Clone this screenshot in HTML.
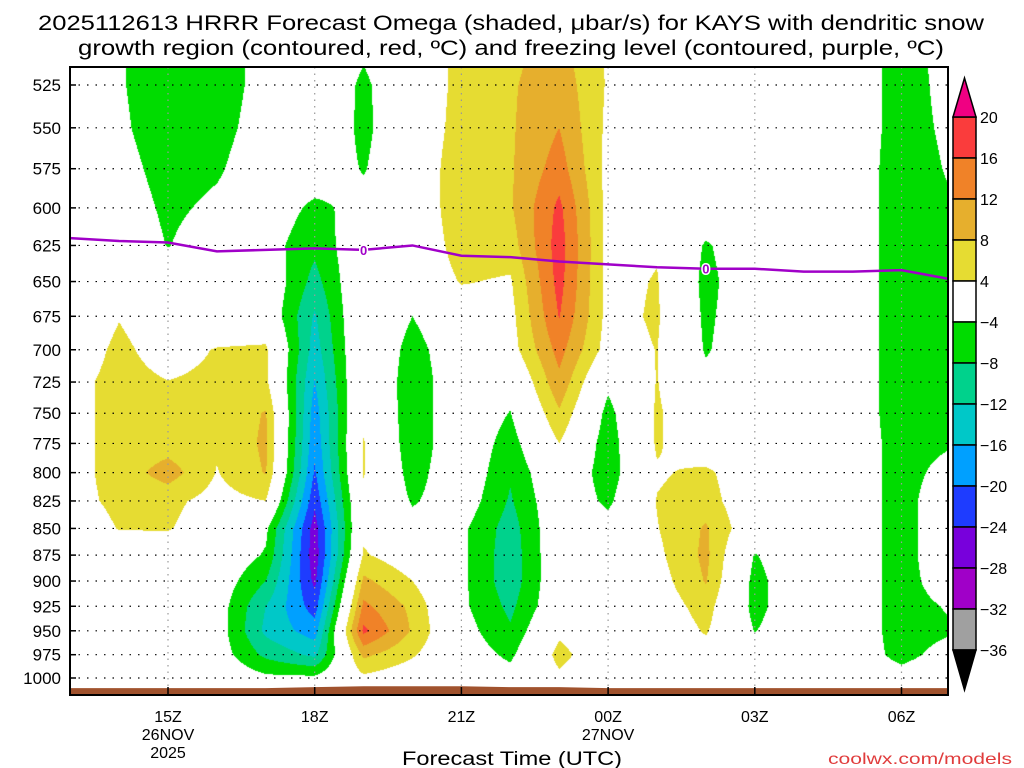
<!DOCTYPE html>
<html><head><meta charset="utf-8">
<style>
html,body{margin:0;padding:0;background:#fff;}
#wrap{position:relative;width:1024px;height:768px;overflow:hidden;font-family:"Liberation Sans",sans-serif;}
#cv{position:absolute;left:70px;top:67px;}
#sv{position:absolute;left:0;top:0;}
</style></head>
<body>
<div id="wrap">
<canvas id="cv" width="878" height="628"></canvas>
<svg id="sv" width="1024" height="768" xmlns="http://www.w3.org/2000/svg">
<text x="511" y="30" font-size="21" text-anchor="middle" textLength="946" lengthAdjust="spacingAndGlyphs">2025112613 HRRR Forecast Omega (shaded, μbar/s) for KAYS with dendritic snow</text>
<text x="511" y="55" font-size="21" text-anchor="middle" textLength="866" lengthAdjust="spacingAndGlyphs">growth region (contoured, red, ºC) and freezing level (contoured, purple, ºC)</text>
<g id="grid"></g>
<g id="terrain"></g>
<g id="frz"></g>
<g id="yax"></g>
<g id="xax"></g>
<rect x="70" y="67" width="878" height="628" fill="none" stroke="#000" stroke-width="2"/>
<g id="cbar"></g>
<text x="512" y="765" font-size="19" text-anchor="middle" textLength="220" lengthAdjust="spacingAndGlyphs">Forecast Time (UTC)</text>
<text x="1012" y="764" font-size="16" fill="#e03c3c" text-anchor="end" textLength="184" lengthAdjust="spacingAndGlyphs">coolwx.com/models</text>
</svg>
</div>
<script>
// ---- data ----
const hours = ["13Z","14Z","15Z","16Z","17Z","18Z","19Z","20Z","21Z","22Z","23Z","00Z","01Z","02Z","03Z","04Z","05Z","06Z","07Z"];
const levels = [500,525,550,575,600,625,650,675,700,725,750,775,800,825,850,875,900,925,950,975,1000];
const omega = [
[0,-3.5,-7,-6,-2.5,0,-3,0,5.5,7,9,3.5,0,0,0,0,-1,-6,-2],
[0,-3.5,-7,-6,-2.5,0,-4.8,0,5.5,7.5,10.5,3.5,0,0,0,0,-1,-6,-2.5],
[0,-3,-7,-5.5,-2,0,-5,0,6,7.5,12,3,0,0,0,0,-1,-6,-3],
[0,-2,-6,-4.6,-1,-1,-4.3,0,7,7.5,14,2.5,0,0,0,0,-1,-6.5,-3.5],
[0,-1,-5,-3,-1,-5,-2.5,0,7,7.5,17,2.5,0,0,0,0,-1,-6.5,-4.5],
[0,0,-4.2,-1,-2,-7,0,0,6,6,18,2.5,3.5,-4.6,0,0,-1,-6.5,-5.5],
[0,0,-1,0,0,-9.5,1,0,4.3,3.5,17.5,2.5,4.3,-5.5,0,0,-1,-6.5,-6],
[0,3.8,1,0,0,-12.5,2,-4,1,2.5,16.2,2.5,4.6,-5,0,0,-1,-6.5,-6.5],
[1,5,2,4.3,4.8,-14,2,-6,0,2,13.5,2,4.1,-4.5,0,0,-1,-6.5,-6.5],
[2.5,5.5,4.1,5,5,-16.2,2.5,-7,0,-2,11,-3,4.2,-2.5,0,0,-1,-6.5,-6],
[2.5,5.5,5,5,8.3,-18,3,-7,0,-4.2,7.5,-5.5,4.6,0,0,0,-1,-6.5,-5],
[2.5,5.5,6,4.5,8.8,-19,4.3,-7,0,-6,4,-6.5,4.6,0,0,0,-1,-6,-4.5],
[2.5,5.5,10,3.8,8.3,-20.5,4.3,-6,0,-7.5,1,-6.5,3.5,5,0,0,-1,-6,-2],
[2.5,5,5,2.5,4,-23,3,-4.5,-1,-8.5,0,-5,4.2,6,0,0,-1,-6,0],
[1,4.2,4.3,1.5,-3,-26,3,-2,-3,-10,0,-2,3.8,8.5,0,0,-1,-6,0],
[0,1,1,0,-4.5,-26.5,4.5,1,-3,-10.5,0,0,3,9,-4.3,0,-1,-6,0],
[0,0,0,-1,-8,-25,9,4,-3,-10.5,0,0,2,8.3,-5.5,0,-1,-6,-1],
[0,0,0,-1.5,-12,-22,13,7,-3,-9,0,0,1,6,-5.5,0,-1,-6,-3.5],
[0,0,0,-1.5,-13,-18,17,7.5,-2,-7.5,3,0,0,4.5,-4.2,0,-1,-6,-4.5],
[0,0,0,-1.5,-9,-13,9,4.5,-1,-5,5.5,0,0,2,0,0,-1,-5.5,-2],
[0,0,0,0,-3,-3,3,1,0,-2,3,0,0,0,0,0,-1,-2,0]
];
const freezingP = [620,622,623,629,628,627,628,625,632,633,636,638,640,641,641,643,643,642,648];
const surfaceP = [1011,1011,1011,1011,1011,1010,1009,1009,1009,1010,1010,1011,1011,1011,1011,1011,1011,1011,1011];
const yTickLabels = [525,550,575,600,625,650,675,700,725,750,775,800,825,850,875,900,925,950,975,1000];
const xTickHours = [2,5,8,11,14,17];
const xTickLabels = ["15Z","18Z","21Z","00Z","03Z","06Z"];
const cbLevels = [-36,-32,-28,-24,-20,-16,-12,-8,-4,4,8,12,16,20];
const cbColors = ["#000000","#a0a0a0","#a000c8","#7800dc","#1e3cff","#00a0ff","#00c8c8","#00d28c","#00dc00","#ffffff","#e6dc32","#e6af2d","#f08228","#fa3c3c","#f00082"];

// ---- axes ----
const X0=70, X1=948, Y0=67, Y1=695, HOURPX=48.9;
function xOf(h){return 70.2+h*HOURPX;}
function yOf(p){return 678-Math.log(1000/p)/Math.log(1000/525)*593;}
function pOf(y){return 1000*Math.exp(-(678-y)/593*Math.log(1000/525));}
const NS="http://www.w3.org/2000/svg";
function mk(tag,attrs,parent,txt){const e=document.createElementNS(NS,tag);for(const k in attrs)e.setAttribute(k,attrs[k]);if(txt!==undefined)e.textContent=txt;parent.appendChild(e);return e;}

// ---- shading ----
function colorFor(v){let i=0;while(i<cbLevels.length&&v>=cbLevels[i])i++;return cbColors[i];}
function hex(c){return [parseInt(c.substr(1,2),16),parseInt(c.substr(3,2),16),parseInt(c.substr(5,2),16)];}
const cv=document.getElementById('cv');const ctx=cv.getContext('2d');
const img=ctx.createImageData(cv.width,cv.height);
const nR=levels.length,nC=hours.length;
for(let py=0;py<cv.height;py++){
  const p=pOf(Y0+py+0.5);
  let r=(p-levels[0])/(levels[1]-levels[0]);r=Math.max(0,Math.min(nR-1,r));
  const r0=Math.min(nR-2,Math.floor(r)),fr=r-r0;
  for(let px=0;px<cv.width;px++){
    let c=(X0+px+0.5-70.2)/HOURPX;c=Math.max(0,Math.min(nC-1,c));
    const c0=Math.min(nC-2,Math.floor(c)),fc=c-c0;
    const v=(1-fr)*((1-fc)*omega[r0][c0]+fc*omega[r0][c0+1])+fr*((1-fc)*omega[r0+1][c0]+fc*omega[r0+1][c0+1]);
    const rgb=hex(colorFor(v));const k=(py*cv.width+px)*4;
    img.data[k]=rgb[0];img.data[k+1]=rgb[1];img.data[k+2]=rgb[2];img.data[k+3]=255;
  }
}
ctx.putImageData(img,0,0);

// ---- grid ----
const grid=document.getElementById('grid');
yTickLabels.forEach(p=>{const y=yOf(p);
  const l=mk('line',{x1:X0,x2:X1,y1:y,y2:y,stroke:'#000','stroke-width':1.2,'stroke-dasharray':'1.5 7'},grid);
  });
xTickHours.forEach(h=>{const x=xOf(h);
  const l=mk('line',{x1:x,x2:x,y1:Y0,y2:Y1,stroke:'#999','stroke-width':1.2,'stroke-dasharray':'1.5 5'},grid);
  });

// ---- terrain ----
const ter=document.getElementById('terrain');
let tp='M'+X0+','+Y1;surfaceP.forEach((p,i)=>{tp+=' L'+Math.min(X1,Math.max(X0,xOf(i)))+','+yOf(p);});tp+=' L'+X1+','+Y1+' Z';
const tpath=mk('path',{d:tp,fill:'#a0522d'},ter);


// ---- freezing level ----
const frz=document.getElementById('frz');
let fp='';freezingP.forEach((p,i)=>{fp+=(i?' L':'M')+Math.min(X1,xOf(i))+','+yOf(p);});
const fl=mk('path',{d:fp,fill:'none',stroke:'#a000c8','stroke-width':2.5},frz);

[6,13].forEach(i=>{const x=xOf(i),y=yOf(freezingP[i]);
  const t=mk('text',{x:x,y:y+5,'font-size':13,'font-weight':'bold',fill:'#a000c8','text-anchor':'middle',stroke:'#fff','stroke-width':3,'paint-order':'stroke'},frz,'0');
  });

// ---- y axis ----
const yax=document.getElementById('yax');
yTickLabels.forEach(p=>{const y=yOf(p);
  const t=mk('text',{x:61,y:y+6,'font-size':17,'text-anchor':'end'},yax,String(p));
  
  const tk=mk('line',{x1:X0,x2:X0+6,y1:y,y2:y,stroke:'#000','stroke-width':1.5},yax);
  });

// ---- x axis ----
const xax=document.getElementById('xax');
xTickHours.forEach((h,i)=>{const x=xOf(h);
  const tk=mk('line',{x1:x,x2:x,y1:Y1,y2:Y1-8,stroke:'#000','stroke-width':1.5},xax);
  
  const t=mk('text',{x:x,y:722,'font-size':16,'text-anchor':'middle'},xax,xTickLabels[i]);
  });
const d1=mk('text',{x:xOf(2),y:740,'font-size':16,'text-anchor':'middle'},xax,'26NOV');

const d2=mk('text',{x:xOf(2),y:758,'font-size':16,'text-anchor':'middle'},xax,'2025');

const d3=mk('text',{x:xOf(11),y:740,'font-size':16,'text-anchor':'middle'},xax,'27NOV');


// ---- colorbar ----
const cb=document.getElementById('cbar');
const CBX=953,CBW=23,CBTOP=117,STEP=41;
for(let i=0;i<cbLevels.length-1;i++){
  const idx=cbLevels.length-1-i;
  const y=CBTOP+i*STEP;
  const r=mk('rect',{x:CBX,y:y,width:CBW,height:STEP,fill:cbColors[idx],stroke:'#000','stroke-width':1.5},cb);
  
}
const tt=mk('path',{d:`M${CBX},${CBTOP} L${CBX+CBW/2},78 L${CBX+CBW},${CBTOP} Z`,fill:cbColors[cbColors.length-1],stroke:'#000','stroke-width':1.5},cb);

const bEnd=CBTOP+(cbLevels.length-1)*STEP;
const bt=mk('path',{d:`M${CBX},${bEnd} L${CBX+CBW/2},${bEnd+40} L${CBX+CBW},${bEnd} Z`,fill:cbColors[0],stroke:'#000','stroke-width':1.5},cb);

for(let i=0;i<cbLevels.length;i++){
  const v=cbLevels[cbLevels.length-1-i];const y=CBTOP+i*STEP;
  const t=mk('text',{x:980,y:y+6,'font-size':16},cb,v<0?'\u2212'+(-v):String(v));
  
}
</script>
</body></html>
